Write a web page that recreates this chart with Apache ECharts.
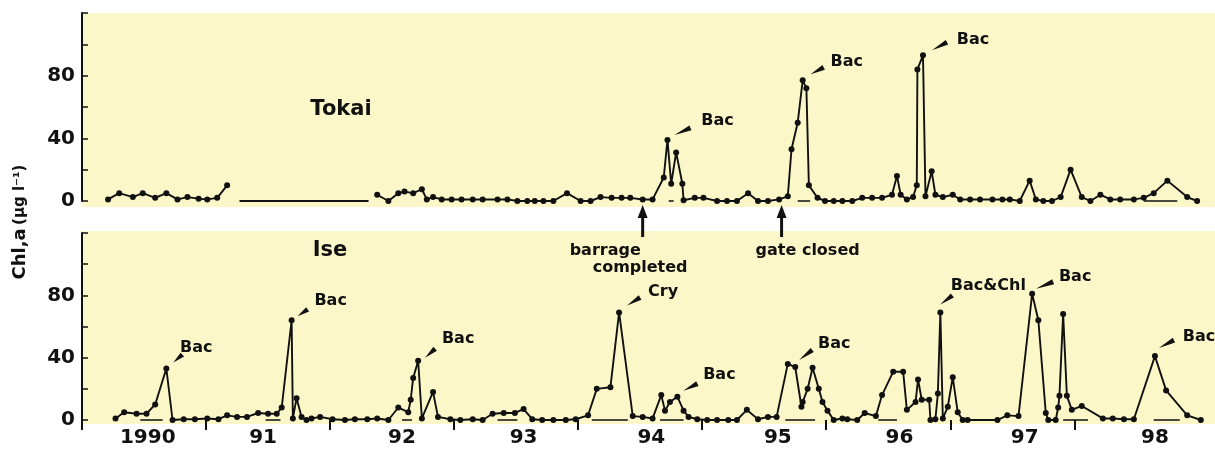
<!DOCTYPE html>
<html><head><meta charset="utf-8">
<script src="https://cdn.jsdelivr.net/npm/echarts@6/dist/echarts.min.js"></script>
<style>html,body{margin:0;padding:0;background:#fff}#c{width:1215px;height:453px}</style>
</head><body><div id="c"></div>
<script>
// ---------- data ----------
const panelNames = ['Tokai', 'Ise'];
const tokaiYears = [1990.21,1990.30,1990.41,1990.49,1990.59,1990.68,1990.77,1990.85,1990.94,1991.01,1991.09,1991.17,
  1991.80,
  1992.38,1992.47,1992.55,1992.60,1992.67,1992.74,1992.78,1992.83,1992.90,1992.98,1993.06,1993.15,1993.23,1993.35,1993.43,
  1993.51,1993.59,1993.65,1993.72,1993.80,1993.91,1994.02,1994.10,1994.18,1994.27,1994.35,1994.42,1994.52,1994.60,
  1994.69,1994.72,1994.75,1994.79,1994.84,1994.85,1994.94,1995.01,1995.12,1995.20,1995.28,1995.37,1995.45,1995.53,
  1995.62,1995.69,1995.72,1995.77,1995.81,1995.84,1995.86,1995.93,1995.99,1996.06,1996.13,1996.21,1996.29,1996.37,
  1996.45,1996.53,1996.57,1996.60,1996.65,1996.70,1996.73,1996.735,1996.78,1996.80,1996.85,1996.88,1996.94,1997.02,
  1997.08,1997.16,1997.24,1997.34,1997.42,1997.48,1997.56,1997.64,1997.69,1997.75,1997.82,1997.89,1997.97,1998.06,
  1998.13,1998.21,1998.29,1998.37,1998.48,1998.56,1998.64,1998.75,1998.91,1998.99];
const tokaiChl = [1,5,2.5,5,2,5,1,2.5,1.5,1,2,10,
  null,
  4,0,5,6,5,7.5,1,2.5,1,1,1,1,1,1,1,
  0,0,0,0,0,5,0,0,2.5,2,2,2,1,1,
  15,39,11,31,11,0.5,2,2,0,0,0,5,0,0,
  1,3,33,50,77,72,10,2,0,0,0,0,2,2,
  2,4,16,4,1,2.5,10,84,93,3,19,4,2.5,4,
  1,1,1,1,1,1,0,13,1,0,0,2.5,20,2.5,
  0,4,1,1,1,2,5,13,2.5,0];
// period drawn as a flat line without samples
const tokaiGapYears = [1991.27, 1992.31];
const tokaiGapChl = [0, 0];

const iseYears = [1990.27,1990.34,1990.44,1990.52,1990.59,1990.68,1990.73,1990.82,1990.91,1991.01,1991.10,1991.17,
  1991.25,1991.33,1991.42,1991.50,1991.57,1991.61,1991.69,1991.70,1991.73,1991.77,1991.81,1991.85,1991.92,1992.02,
  1992.12,1992.20,1992.30,1992.38,1992.47,1992.55,1992.63,1992.65,1992.67,1992.71,1992.74,1992.83,1992.87,1992.97,
  1993.05,1993.15,1993.23,1993.31,1993.40,1993.49,1993.56,1993.63,1993.71,1993.80,1993.90,1993.98,1994.08,1994.15,
  1994.26,1994.33,1994.44,1994.52,1994.60,1994.67,1994.70,1994.74,1994.80,1994.85,1994.89,1994.96,1995.04,1995.12,
  1995.21,1995.28,1995.36,1995.45,1995.53,1995.60,1995.69,1995.75,1995.80,1995.81,1995.85,1995.89,1995.94,1995.97,
  1996.01,1996.06,1996.13,1996.17,1996.25,1996.31,1996.40,1996.45,1996.54,1996.62,1996.65,1996.72,1996.74,1996.77,
  1996.83,1996.84,1996.88,1996.90,1996.92,1996.94,1996.98,1997.02,1997.06,1997.10,1997.14,1997.38,1997.46,1997.55,
  1997.66,1997.71,1997.77,1997.79,1997.85,1997.87,1997.88,1997.91,1997.94,1997.98,1998.06,1998.23,1998.31,1998.40,
  1998.48,1998.65,1998.74,1998.91,1999.02];
const iseChl = [1,5,4,4,10,33,0,0.5,0.5,1,0.5,3,
  2,2,4.5,4,4,8,64,1,14,2,0,1,2,0.5,
  0,0.5,0.5,1,0,8,5,13,27,38,1,18,2,0.5,
  0,0.5,0,4,4.5,4.5,7,0.5,0,0,0,0.5,3,20,
  21,69,2.5,2,1,16,6,11.5,15,6,2,0.5,0,0,
  0,0,6.5,0.5,2,2,36,34,8.5,11.5,20,33.5,20,11.5,
  6,0,1,0.5,0,4.5,2.5,16,31,31,6.5,11.5,26,13,
  13,0,0.5,17,69,1,8.5,27.5,5,0,0,0,3,2.5,
  81,64,4.5,0,0,8,15.5,68,15.5,6.5,9,1,1,0.5,
  0.5,41,19,3,0];

// short zero-line pieces visible under the peaks
const tokaiBaseSegs = [[1994.73,1994.77],[1995.77,1995.87],[1998.56,1998.83]];
const iseBaseSegs = [[1990.47,1990.65],[1991.48,1991.60],[1992.58,1992.66],[1993.35,1993.51],[1994.11,1994.40],
  [1994.66,1994.85],[1995.67,1995.91],[1996.42,1996.57],[1997.91,1998.11],[1998.64,1998.85]];

const yearTicks = [1990,1991,1992,1993,1994,1995,1996,1997,1998];
const yearLabels = ['1990','91','92','93','94','95','96','97','98'];
const yearLabelAt = [1990.53,1991.46,1992.58,1993.56,1994.59,1995.61,1996.59,1997.60,1998.65];
const chlTicks = [0,20,40,60,80,100,120];
const chlLabels = [0,40,80];

const tokaiNotes = [[1994.72,39,'Bac'],[1995.81,77,'Bac'],[1996.78,93,'Bac']];
const iseNotes = [[1990.68,33,'Bac'],[1991.69,64,'Bac'],[1992.71,38,'Bac'],[1994.33,69,'Cry'],[1994.80,15,'Bac'],
  [1995.75,34,'Bac'],[1996.92,69,'Bac&Chl'],[1997.66,81,'Bac'],[1998.65,41,'Bac']];
const events = [[1994.52,['barrage','completed']],[1995.64,['gate closed']]];

// ---------- layout ----------
const tokaiNoteLayout = [{w0:[7,-5],w1:[23,-12],t:[50,-19]},{w0:[8,-6],w1:[21,-13],t:[44,-19]},{w0:[9,-5],w1:[24,-13],t:[50,-15]}];
const iseNoteLayout = [{w0:[7,-6],w1:[16,-14],t:[30,-21]},{w0:[6,-4],w1:[16,-11],t:[39,-19]},{w0:[7,-3],w1:[17,-12],t:[40,-22]},
  {w0:[8,-7],w1:[21,-15],t:[44,-21]},{w0:[6,-6],w1:[20,-13],t:[42,-22]},{w0:[4,-7],w1:[17,-17],t:[39,-23]},
  {w0:[0,-8],w1:[12,-17],t:[48,-27]},{w0:[4,-5],w1:[21,-12],t:[43,-17]},{w0:[4,-8],w1:[19,-16],t:[44,-19]}];
const eventTextLayout = [[[-73,251],[-50,268]],[[-26,251]]];

const INK = '#111111';
const BG = '#FBF7C8';
const FONT = '"DejaVu Sans", "Liberation Sans", sans-serif';
const XMIN = 1990, XMAX = 1999.11;

function pairs(xs, ys){ return xs.map((x,i)=>[x, ys[i]===null ? '-' : ys[i]]); }
function segs(list){ const d=[]; list.forEach(s=>{ d.push([s[0],0],[s[1],0],[s[1],'-']); }); return d; }

function yAxis(i){
  return {gridIndex:i, type:'value', min:0, max:120,
    axisLine:{show:true, lineStyle:{color:INK, width:2}},
    axisTick:{show:true, inside:true, length:6, customValues:chlTicks, lineStyle:{color:INK, width:1.5}},
    axisLabel:{show:true, customValues:chlLabels, color:INK, fontFamily:FONT, fontWeight:'bold', fontSize:20, margin:7},
    splitLine:{show:false}};
}
function lineSeries(i, data, withSym, w){
  return {type:'line', xAxisIndex:i, yAxisIndex:i, data:data, symbol: withSym?'circle':'none', symbolSize:6,
    showSymbol: withSym, itemStyle:{color:INK}, lineStyle:{color:INK, width:w}, connectNulls:false, silent:true, clip:false};
}

const chart = echarts.init(document.getElementById('c'), null, {renderer:'canvas'});
chart.setOption({
  animation:false,
  backgroundColor:'#ffffff',
  grid:[{left:82, top:13, width:1130, height:188},{left:82, top:233, width:1130, height:187}],
  xAxis:[
    {gridIndex:0, type:'value', min:XMIN, max:XMAX, show:false},
    {gridIndex:1, type:'value', min:XMIN, max:XMAX, offset:3,
      axisLine:{show:false}, splitLine:{show:false},
      axisTick:{show:true, customValues:yearTicks, length:10, lineStyle:{color:INK, width:2}},
      axisLabel:{show:true, customValues:yearLabelAt, color:INK, fontFamily:FONT, fontWeight:'bold', fontSize:20, margin:5,
        formatter:function(v){ const k = yearLabelAt.findIndex(a=>Math.abs(a-v)<1e-6); return k>=0 ? yearLabels[k] : ''; }}}
  ],
  yAxis:[yAxis(0), yAxis(1)],
  series:[
    lineSeries(0, pairs(tokaiYears, tokaiChl), true, 1.9),
    lineSeries(0, pairs(tokaiGapYears, tokaiGapChl), false, 2.2),
    lineSeries(0, segs(tokaiBaseSegs), false, 1.6),
    lineSeries(1, pairs(iseYears, iseChl), true, 1.9),
    lineSeries(1, segs(iseBaseSegs), false, 1.6)
  ]
});

// ---------- annotations ----------
function wedge(p0, p1, hw){
  const dx=p1[0]-p0[0], dy=p1[1]-p0[1], L=Math.hypot(dx,dy)||1;
  const nx=-dy/L*hw, ny=dx/L*hw;
  return [[p0[0],p0[1]],[p1[0]+nx,p1[1]+ny],[p1[0]-nx,p1[1]-ny]];
}
const g = [];
g.push({type:'rect', z:-1, shape:{x:82, y:13, width:1133, height:194}, style:{fill:BG}, silent:true});
g.push({type:'rect', z:-1, shape:{x:82, y:231, width:1133, height:193}, style:{fill:BG}, silent:true});

[[0,tokaiNotes,tokaiNoteLayout],[1,iseNotes,iseNoteLayout]].forEach(([gi, notes, lay])=>{
  notes.forEach((n,k)=>{
    const p = chart.convertToPixel({gridIndex:gi}, [n[0], n[1]]);
    const L = lay[k];
    g.push({type:'polygon', z:10, shape:{points:wedge([p[0]+L.w0[0],p[1]+L.w0[1]],[p[0]+L.w1[0],p[1]+L.w1[1]],2.6)}, style:{fill:INK}, silent:true});
    g.push({type:'text', z:10, x:p[0]+L.t[0], y:p[1]+L.t[1], style:{text:n[2], fill:INK, font:'bold 16px '+FONT, align:'center', verticalAlign:'middle'}, silent:true});
  });
});

events.forEach((e,k)=>{
  const px = chart.convertToPixel({gridIndex:0}, [e[0], 0])[0];
  g.push({type:'line', z:10, shape:{x1:px, y1:237, x2:px, y2:214}, style:{stroke:INK, lineWidth:3}, silent:true});
  g.push({type:'polygon', z:10, shape:{points:[[px-5,218],[px+5,218],[px,205]]}, style:{fill:INK}, silent:true});
  e[1].forEach((t,j)=>{
    const o = eventTextLayout[k][j];
    g.push({type:'text', z:10, x:px+o[0], y:o[1], style:{text:t, fill:INK, font:'bold 16px '+FONT, align:'left', verticalAlign:'middle'}, silent:true});
  });
});

g.push({type:'text', z:10, x:341, y:110, style:{text:panelNames[0], fill:INK, font:'bold 21px '+FONT, align:'center', verticalAlign:'middle'}, silent:true});
g.push({type:'text', z:10, x:330, y:251, style:{text:panelNames[1], fill:INK, font:'bold 21px '+FONT, align:'center', verticalAlign:'middle'}, silent:true});
g.push({type:'text', z:10, x:20, y:222, rotation:Math.PI/2,
  style:{text:'{a|Chl,a} {b|(μg l⁻¹)}', align:'center', verticalAlign:'middle',
    rich:{a:{fill:INK, font:'bold 18px '+FONT}, b:{fill:INK, font:'bold 15px '+FONT}}}, silent:true});

chart.setOption({graphic:g});
</script></body></html>
